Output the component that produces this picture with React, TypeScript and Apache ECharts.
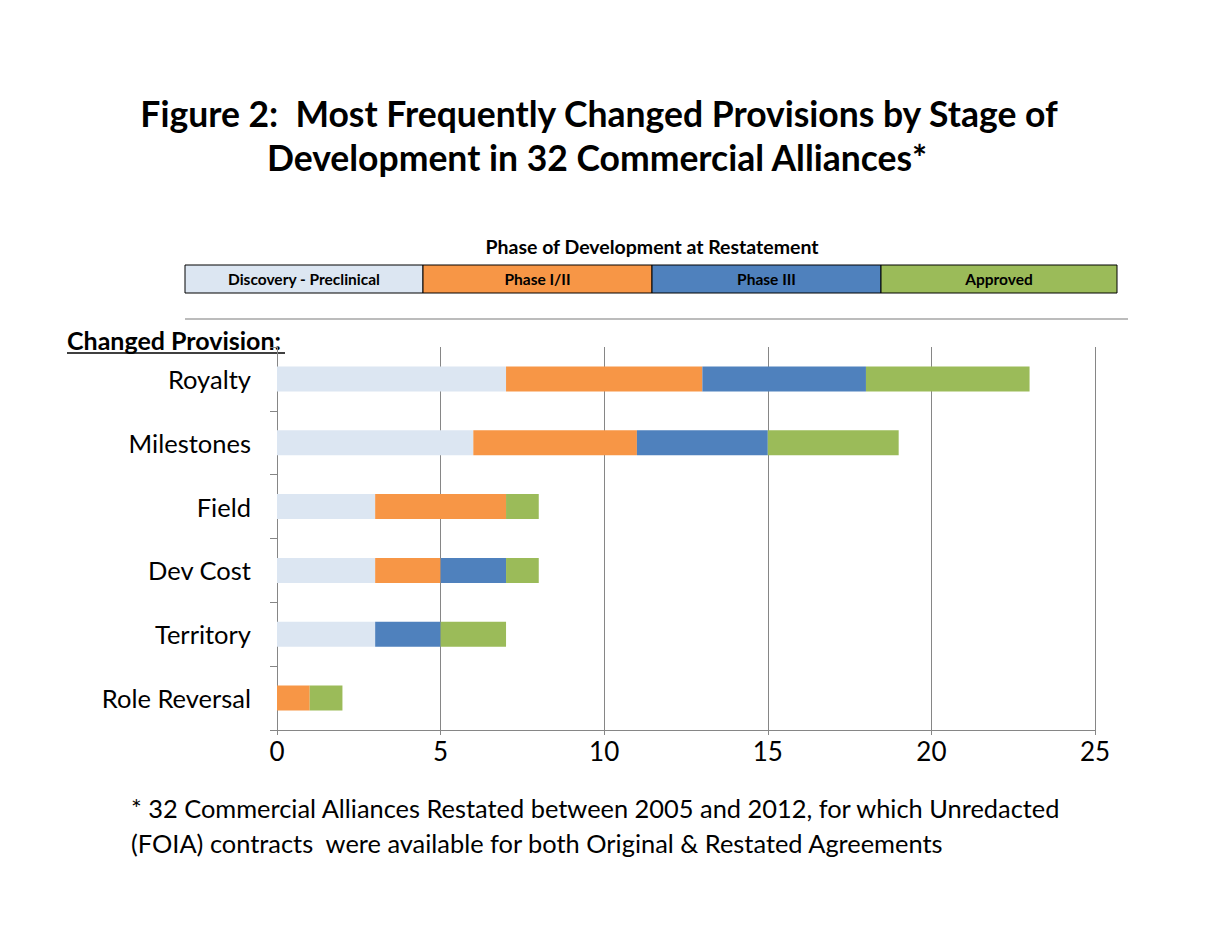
import React, { useEffect, useRef } from "react";
import * as echarts from "echarts";

const categories = ["Royalty", "Milestones", "Field", "Dev Cost", "Territory", "Role Reversal"];
const phaseNames = ["Discovery - Preclinical", "Phase I/II", "Phase III", "Approved"];
const discovery = [7, 6, 3, 3, 3, 0];
const phase12 = [6, 5, 4, 2, 0, 1];
const phase3 = [5, 4, 0, 2, 2, 0];
const approved = [5, 4, 1, 1, 2, 1];
const xTicks = [0, 5, 10, 15, 20, 25];
const phaseColors = ["#DCE6F2", "#F79646", "#4F81BD", "#9BBB59"];

const FONT = "Lato, 'Open Sans', sans-serif";

export default function App() {
  const ref = useRef<HTMLDivElement>(null);
  useEffect(() => {
    if (!ref.current) return;
    const chart = echarts.init(ref.current, undefined, { renderer: "svg" });
    const seriesData = [discovery, phase12, phase3, approved];
    const legendX = [185, 423, 652, 881, 1117];
    const legendEls: any[] = [];
    phaseNames.forEach((n, i) => {
      legendEls.push({
        type: "rect",
        shape: { x: legendX[i], y: 265, width: legendX[i + 1] - legendX[i], height: 28 },
        style: { fill: phaseColors[i], stroke: "#000", lineWidth: 1 },
      });
      legendEls.push({
        type: "text",
        x: (legendX[i] + legendX[i + 1]) / 2,
        y: 279,
        style: {
          text: n,
          fontFamily: FONT,
          fontWeight: "bold",
          fontSize: 15.5,
          fill: "#000",
          align: "center",
          verticalAlign: "middle",
        },
      });
    });
    chart.setOption({
      animation: false,
      backgroundColor: "#fff",
      textStyle: { fontFamily: FONT },
      grid: { left: 277, right: 115, top: 347, bottom: 205, containLabel: false },
      xAxis: {
        type: "value",
        min: xTicks[0],
        max: xTicks[xTicks.length - 1],
        interval: 5,
        axisLine: { show: true, lineStyle: { color: "#868686", width: 1 } },
        axisTick: { show: true, length: 5, lineStyle: { color: "#868686" } },
        splitLine: { show: true, lineStyle: { color: "#868686", width: 1 } },
        axisLabel: { fontSize: 26, color: "#000", margin: 8, fontFamily: FONT },
      },
      yAxis: {
        type: "category",
        data: categories,
        inverse: true,
        axisLine: { show: true, lineStyle: { color: "#868686", width: 1 } },
        axisTick: { show: true, length: 7, alignWithLabel: false, lineStyle: { color: "#868686" } },
        axisLabel: { fontSize: 25.5, color: "#000", margin: 26, fontFamily: FONT },
      },
      series: phaseNames.map((n, i) => ({
        name: n,
        type: "bar",
        stack: "total",
        barWidth: 25,
        itemStyle: { color: phaseColors[i] },
        data: seriesData[i],
      })),
      graphic: [
        {
          type: "text",
          x: 599,
          y: 113,
          style: {
            text: "Figure 2:  Most Frequently Changed Provisions by Stage of",
            fontFamily: FONT,
            fontWeight: "bold",
            fontSize: 35.5,
            fill: "#000",
            align: "center",
            verticalAlign: "middle",
          },
        },
        {
          type: "text",
          x: 597,
          y: 157,
          style: {
            text: "Development in 32 Commercial Alliances*",
            fontFamily: FONT,
            fontWeight: "bold",
            fontSize: 35.5,
            fill: "#000",
            align: "center",
            verticalAlign: "middle",
          },
        },
        {
          type: "text",
          x: 652,
          y: 246,
          style: {
            text: "Phase of Development at Restatement",
            fontFamily: FONT,
            fontWeight: "bold",
            fontSize: 19.5,
            fill: "#000",
            align: "center",
            verticalAlign: "middle",
          },
        },
        ...legendEls,
        {
          type: "line",
          shape: { x1: 185, y1: 319, x2: 1128, y2: 319 },
          style: { stroke: "#A6A6A6", lineWidth: 1.5 },
        },
        {
          type: "text",
          x: 67,
          y: 340,
          style: {
            text: "Changed Provision:",
            fontFamily: FONT,
            fontWeight: "bold",
            fontSize: 25,
            fill: "#000",
            align: "left",
            verticalAlign: "middle",
          },
        },
        {
          type: "line",
          shape: { x1: 67, y1: 353, x2: 285, y2: 353 },
          style: { stroke: "#000", lineWidth: 1.5 },
        },
        {
          type: "text",
          x: 131,
          y: 808,
          style: {
            text: "* 32 Commercial Alliances Restated between 2005 and 2012, for which Unredacted",
            fontFamily: FONT,
            fontSize: 25.4,
            fill: "#000",
            align: "left",
            verticalAlign: "middle",
          },
        },
        {
          type: "text",
          x: 131,
          y: 843,
          style: {
            text: "(FOIA) contracts  were available for both Original & Restated Agreements",
            fontFamily: FONT,
            fontSize: 25.4,
            fill: "#000",
            align: "left",
            verticalAlign: "middle",
          },
        },
      ],
    });
    return () => chart.dispose();
  }, []);
  return (
    <div
      ref={ref}
      style={{ position: "absolute", left: 0, top: 0, width: 1210, height: 935, background: "#fff" }}
    />
  );
}
